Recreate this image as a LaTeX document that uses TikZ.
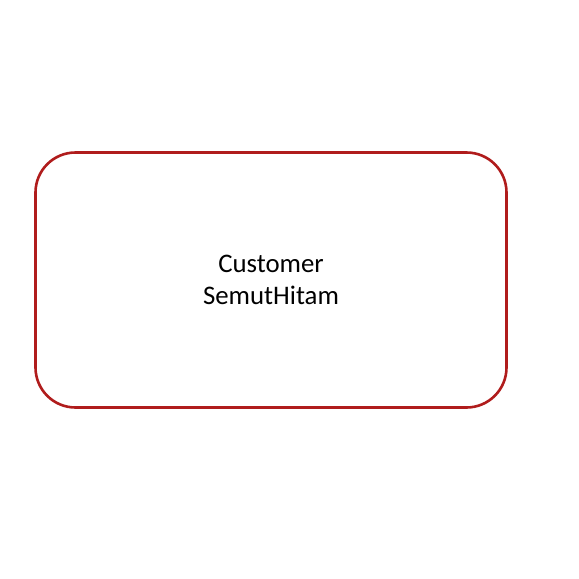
\documentclass[tikz,border=0pt]{standalone}
\usepackage{fontspec}
\setmainfont{Carlito}
\definecolor{entityred}{RGB}{176,28,28}
\tikzset{entity/.style={draw=entityred,line width=2.6pt,rounded corners=40pt,
  minimum width=471pt,minimum height=255pt,align=center,
  font=\fontsize{26.8pt}{32pt}\selectfont}}
\begin{document}
\begin{tikzpicture}[x=1pt,y=-1pt]
\useasboundingbox (0,0) rectangle (579,579);
\node[entity] (customer) at (271,280) {Customer\\SemutHitam};
\end{tikzpicture}
\end{document}
